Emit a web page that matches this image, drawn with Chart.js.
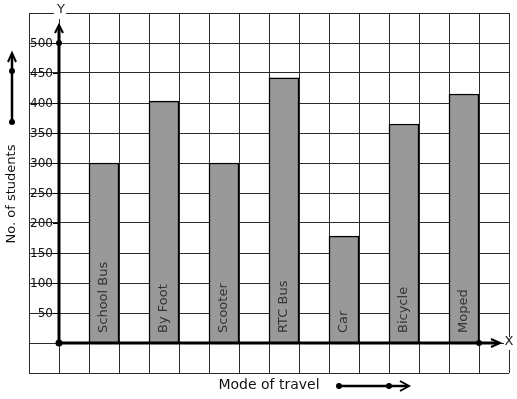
<!DOCTYPE html>
<html>
<head>
    <meta charset="UTF-8">
    <title>Mode of travel</title>
    <script src="https://cdn.jsdelivr.net/npm/chart.js"></script>
    <style>
        html, body { margin: 0; padding: 0; background: #ffffff; }
        .chart-container { position: relative; width: 517px; height: 399px; }
    </style>
</head>
<body>
    <div class="chart-container">
        <canvas id="travelChart"></canvas>
    </div>

    <script>
        // Data
        var modes = ['School Bus', 'By Foot', 'Scooter', 'RTC Bus', 'Car', 'Bicycle', 'Moped'];
        var students = [300, 403, 300, 442, 178, 365, 415];
        var yTicks = [50, 100, 150, 200, 250, 300, 350, 400, 450, 500];

        var FONT = "'DejaVu Sans', sans-serif";

        // each mode sits in every other grid cell right of the Y axis
        var barPoints = modes.map(function (m, i) {
            return { x: 2 * i + 1.5, y: students[i] };
        });

        function dot(ctx, x, y, r) {
            ctx.beginPath();
            ctx.arc(x, y, r, 0, Math.PI * 2);
            ctx.fill();
        }

        function chevron(ctx, tipX, tipY, dir, len, half) {
            ctx.beginPath();
            if (dir === 'up') {
                ctx.moveTo(tipX - half, tipY + len);
                ctx.lineTo(tipX, tipY);
                ctx.lineTo(tipX + half, tipY + len);
            } else {
                ctx.moveTo(tipX - len, tipY - half);
                ctx.lineTo(tipX, tipY);
                ctx.lineTo(tipX - len, tipY + half);
            }
            ctx.stroke();
        }

        // labels written inside the bars
        var barLabels = {
            id: 'barLabels',
            afterDatasetsDraw: function (chart) {
                var ctx = chart.ctx;
                var y0 = chart.scales.y.getPixelForValue(0);
                chart.getDatasetMeta(0).data.forEach(function (bar, i) {
                    ctx.save();
                    ctx.translate(bar.x, y0 - 10);
                    ctx.rotate(-Math.PI / 2);
                    ctx.font = '13px ' + FONT;
                    ctx.fillStyle = '#333333';
                    ctx.textAlign = 'left';
                    ctx.textBaseline = 'middle';
                    ctx.fillText(modes[i], 0, 0);
                    ctx.restore();
                });
            }
        };

        // thick axes, arrows, dots, tick labels and titles
        var axesDecor = {
            id: 'axesDecor',
            afterDraw: function (chart) {
                var ctx = chart.ctx;
                var xs = chart.scales.x, ys = chart.scales.y;
                var area = chart.chartArea;
                var x0 = xs.getPixelForValue(0), y0 = ys.getPixelForValue(0);
                var topY = area.top + 12, rightX = area.right - 9;

                ctx.save();
                ctx.strokeStyle = '#000';
                ctx.fillStyle = '#000';

                // tick dashes and values left of the Y axis
                ctx.lineWidth = 1;
                ctx.font = '12px ' + FONT;
                ctx.textAlign = 'right';
                ctx.textBaseline = 'middle';
                yTicks.forEach(function (v) {
                    var py = Math.round(ys.getPixelForValue(v)) + 0.5;
                    ctx.beginPath();
                    ctx.moveTo(x0 - 6, py);
                    ctx.lineTo(x0, py);
                    ctx.stroke();
                    ctx.fillStyle = '#111';
                    ctx.fillText(String(v), x0 - 6, py);
                });
                ctx.fillStyle = '#000';

                // Y axis
                ctx.lineWidth = 3;
                ctx.beginPath();
                ctx.moveTo(x0, y0);
                ctx.lineTo(x0, topY + 1);
                ctx.stroke();
                ctx.lineWidth = 2;
                chevron(ctx, x0, topY, 'up', 8, 4);
                dot(ctx, x0, ys.getPixelForValue(500), 3);

                // X axis
                ctx.lineWidth = 3;
                ctx.beginPath();
                ctx.moveTo(x0, y0);
                ctx.lineTo(rightX - 1, y0);
                ctx.stroke();
                ctx.lineWidth = 2;
                chevron(ctx, rightX, y0, 'right', 9, 4);
                dot(ctx, xs.getPixelForValue(14), y0, 3);
                dot(ctx, x0, y0, 3.5);

                // axis letters on white patches
                ctx.font = '13px ' + FONT;
                ctx.textAlign = 'center';
                ctx.textBaseline = 'middle';
                ctx.fillStyle = '#fff';
                ctx.fillRect(x0 - 5, area.top - 6, 12, 12);
                ctx.fillRect(area.right - 5, y0 - 6, 10, 13);
                ctx.fillStyle = '#222';
                ctx.fillText('Y', x0 + 2, area.top - 3);
                ctx.fillText('X', area.right, y0 - 1);

                // left title with arrow
                ctx.fillStyle = '#111';
                ctx.font = '13px ' + FONT;
                ctx.save();
                ctx.translate(12, (area.top + area.bottom) / 2 + 1);
                ctx.rotate(-Math.PI / 2);
                ctx.fillText('No. of students', 0, 0);
                ctx.restore();

                ctx.fillStyle = '#000';
                ctx.lineWidth = 2.5;
                ctx.beginPath();
                ctx.moveTo(12, 122);
                ctx.lineTo(12, 54);
                ctx.stroke();
                ctx.lineWidth = 2;
                chevron(ctx, 12, 53, 'up', 9, 4);
                dot(ctx, 12, 122, 3);
                dot(ctx, 12, 71, 3);

                // bottom title with arrow
                ctx.fillStyle = '#111';
                ctx.font = '14px ' + FONT;
                ctx.fillText('Mode of travel', 269, 385);

                ctx.fillStyle = '#000';
                ctx.lineWidth = 2.5;
                ctx.beginPath();
                ctx.moveTo(339, 386);
                ctx.lineTo(407, 386);
                ctx.stroke();
                ctx.lineWidth = 2;
                chevron(ctx, 409, 386, 'right', 9, 5);
                dot(ctx, 339, 386, 3);
                dot(ctx, 389, 386, 3);

                ctx.restore();
            }
        };

        var ctx = document.getElementById('travelChart').getContext('2d');
        var travelChart = new Chart(ctx, {
            type: 'bar',
            data: {
                datasets: [{
                    label: 'No. of students',
                    data: barPoints,
                    backgroundColor: '#999999',
                    borderColor: '#000000',
                    borderWidth: 1.5,
                    barPercentage: 1.0,
                    categoryPercentage: 1.0
                }]
            },
            options: {
                responsive: true,
                maintainAspectRatio: false,
                animation: false,
                layout: { padding: { left: 29, top: 13, right: 8, bottom: 26 } },
                plugins: {
                    legend: { display: false },
                    tooltip: { enabled: false }
                },
                scales: {
                    x: {
                        type: 'linear',
                        min: -1,
                        max: 15,
                        offset: false,
                        position: { y: 0 },
                        grid: { offset: false, color: '#2a2a2a', lineWidth: 1, drawTicks: false },
                        border: { display: false },
                        ticks: { stepSize: 1, autoSkip: false, display: false }
                    },
                    y: {
                        type: 'linear',
                        min: -50,
                        max: 550,
                        position: { x: 0 },
                        grid: { color: '#2a2a2a', lineWidth: 1, drawTicks: false },
                        border: { display: false },
                        ticks: { stepSize: 50, autoSkip: false, display: false }
                    }
                }
            },
            plugins: [barLabels, axesDecor]
        });
    </script>
</body>
</html>
